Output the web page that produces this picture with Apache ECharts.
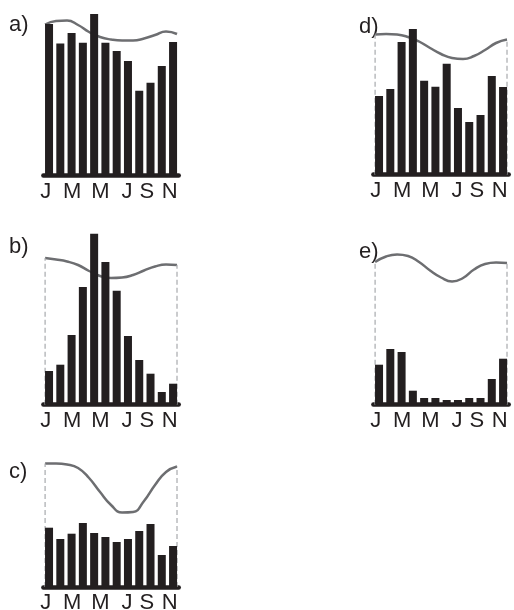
<!DOCTYPE html>
<html><head><meta charset="utf-8">
<script src="https://cdn.jsdelivr.net/npm/echarts@6/dist/echarts.min.js"></script>
<style>html,body{margin:0;padding:0;background:#fff}#c{width:514px;height:610px}</style>
</head><body><div id="c"></div>
<script>
// ---- data ----
const MONTHS = ['Jan','Feb','Mar','Apr','May','Jun','Jul','Aug','Sep','Oct','Nov','Dec'];
const TICK_LABELS = ['J','M','M','J','S','N'];
const TICK_POS = [0.2, 2.55, 5.05, 7.42, 9.18, 11.2];
const CURVE_X = [0.15, 1.125, 2.1, 3.075, 4.05, 5.025, 6.0, 6.975, 7.95, 8.925, 9.9, 10.875, 11.85];

const barsA  = [151.5, 132, 142.5, 132.8, 161.5, 132.8, 124.5, 114.5, 84.8, 92.8, 109.5, 133.5];
const curveA = [151, 154.5, 155, 150.5, 143.5, 138.5, 136, 135, 135, 137, 140.5, 144, 141.5];
const barsB  = [33.7, 40, 69.7, 117.7, 171, 142.7, 114, 68.7, 44.7, 31, 12.7, 21];
const curveB = [146.7, 145.2, 143.2, 139.7, 133.7, 128.7, 126.7, 127.2, 129.7, 134.2, 138.2, 140.2, 139.7];
const barsC  = [59.3, 48, 53.3, 64, 54, 50, 45, 48, 56, 63, 32, 41];
const curveC = [123.5, 123.5, 122.5, 119, 109, 95, 82, 74.5, 75, 86, 102, 115, 120.5];
const barsD  = [78.7, 85.7, 132.7, 145.7, 94, 88, 111, 66.7, 52.7, 59.7, 98.7, 87.7];
const curveD = [140.2, 140.7, 140.2, 137.7, 133.2, 126.7, 120.7, 116.7, 115.7, 118.7, 124.7, 131.7, 135.2];
const barsE  = [40, 55.7, 52.7, 14, 6.7, 6.7, 4.7, 4.7, 6.7, 6.7, 25.7, 46];
const curveE = [142.7, 148.2, 150.2, 148.7, 142.7, 134.2, 127.2, 123.2, 126.7, 135.2, 140.7, 142.2, 141.7];

// ---- layout ----
const H = 173, W = 135.3;
const FONT = '"Liberation Sans", Arial, Helvetica, sans-serif';
const BLACK = '#231f20', CURVE = '#6d6e71', DASH = '#a7a9ac';
const PANELS = [
  {name:'a)', bars:barsA, curve:curveA, dashed:false, left:43.4, base:175.5, lx:9,   ly:25},
  {name:'b)', bars:barsB, curve:curveB, dashed:true,  left:43.4, base:404.7, lx:9,   ly:246.5},
  {name:'c)', bars:barsC, curve:curveC, dashed:true,  left:43.4, base:587,   lx:9,   ly:471.5},
  {name:'d)', bars:barsD, curve:curveD, dashed:true,  left:373.4, base:174.7, lx:359, ly:26.5},
  {name:'e)', bars:barsE, curve:curveE, dashed:true,  left:373.4, base:404.7, lx:359, ly:251.5}
];

const grid = [], xAxis = [], yAxis = [], series = [], graphic = [];
PANELS.forEach((p, i) => {
  grid.push({left:p.left, top:p.base - H, width:W, height:H, outerBoundsMode:'none', containLabel:false});
  xAxis.push({
    type:'category', gridIndex:i, data:MONTHS, position:'bottom', boundaryGap:true,
    axisLine:{show:true, lineStyle:{color:BLACK, width:4.5}},
    axisTick:{show:false}, axisLabel:{show:false}, splitLine:{show:false}
  });
  xAxis.push({
    type:'value', gridIndex:i, min:0, max:12, position:'bottom', offset:0,
    axisLine:{show:false}, axisTick:{show:false}, splitLine:{show:false},
    axisLabel:{
      show:true, customValues:TICK_POS, margin:5, fontSize:22, color:BLACK, fontFamily:FONT,
      formatter:(v) => {
        let best = 0;
        TICK_POS.forEach((t, k) => { if (Math.abs(t - v) < Math.abs(TICK_POS[best] - v)) best = k; });
        return TICK_LABELS[best];
      }
    }
  });
  yAxis.push({type:'value', gridIndex:i, min:0, max:H, show:false});
  const n = p.curve.length;
  series.push({
    type:'line', xAxisIndex:2*i+1, yAxisIndex:i, smooth:0.5, symbol:'none', silent:true, z:1,
    lineStyle:{color:CURVE, width:2.5}, animation:false,
    data:p.curve.map((v, k) => [CURVE_X[k], v])
  });
  if (p.dashed) {
    [[CURVE_X[0], p.curve[0]], [CURVE_X[n-1], p.curve[n-1]]].forEach(pt => {
      series.push({
        type:'line', xAxisIndex:2*i+1, yAxisIndex:i, symbol:'none', silent:true, z:1, animation:false,
        lineStyle:{color:DASH, width:1.2, type:[5,3]},
        data:[[pt[0], 0], [pt[0], pt[1]]]
      });
    });
  }
  series.push({
    type:'bar', xAxisIndex:2*i, yAxisIndex:i, barWidth:'71%', z:3, animation:false,
    itemStyle:{color:BLACK}, data:p.bars
  });
  graphic.push({
    type:'text', x:p.lx, y:p.ly,
    style:{text:p.name, font:'22px ' + FONT, fill:BLACK, verticalAlign:'middle', textVerticalAlign:'middle'}
  });
});

const chart = echarts.init(document.getElementById('c'), null, {renderer:'canvas'});
chart.setOption({animation:false, backgroundColor:'#ffffff', grid, xAxis, yAxis, series, graphic});
</script>
</body></html>
